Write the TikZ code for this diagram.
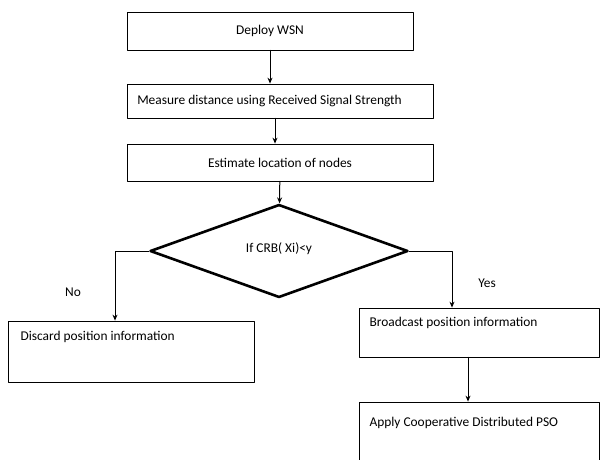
\documentclass[tikz,border=0pt]{standalone}
\usepackage{fontspec}
\setmainfont{Carlito}
\usetikzlibrary{shapes.geometric,arrows.meta}
\begin{document}
\begin{tikzpicture}[line cap=round,line join=round,>={Stealth[length=6pt,width=5pt]},x=1pt,y=-1pt,
  every node/.style={font=\fontsize{13.4}{15}\selectfont},
  stepbox/.style={draw,line width=0.8pt,rectangle,inner sep=0pt},
  decide/.style={draw,line width=2.6pt,diamond,inner sep=0pt},
  flow/.style={->,line width=1pt}]
\useasboundingbox (0,0) rectangle (601,459);
\clip (0,0) rectangle (601,459);
\node[stepbox,minimum width=286pt,minimum height=38pt] (deploy) at (270,31) {Deploy WSN};
\node[stepbox,minimum width=306pt,minimum height=34pt] (measure) at (280,101) {\hspace*{-21pt}Measure distance using Received Signal Strength};
\node[stepbox,minimum width=306pt,minimum height=37pt] (estimate) at (280,162.5) {Estimate location of nodes};
\node[decide,minimum width=258pt,minimum height=93pt] (cond) at (279,251) {\raisebox{6pt}{If CRB( Xi)<y}};
\node[stepbox,minimum width=246pt,minimum height=61pt] (discard) at (131,351.5) {};
\node[anchor=west] (discardtxt) at (17,337) {Discard position information};
\node[stepbox,minimum width=240pt,minimum height=49pt] (bcast) at (479,332.5) {};
\node[anchor=west] (bcasttxt) at (366,323) {Broadcast position information};
\node[stepbox,minimum width=240pt,minimum height=70pt] (apply) at (479,437) {};
\node[anchor=west] (applytxt) at (366,423) {Apply Cooperative Distributed PSO};
\node (no) at (73,292) {No};
\node (yes) at (487,283) {Yes};
% connectors
\draw[flow] (deploy) -- (deploy |- measure.north);
\draw[flow] ([xshift=-5pt]measure.south) -- ([xshift=-5pt]estimate.north);
\draw[flow] (estimate) -- (cond);
\draw[flow] (cond.west) -| ([xshift=-16pt]discard.north);
\draw[flow] (cond.east) -| ([xshift=-27pt]bcast.north);
\draw[flow] ([xshift=-11pt]bcast.south) -- ([xshift=-11pt]apply.north);
\end{tikzpicture}
\end{document}
